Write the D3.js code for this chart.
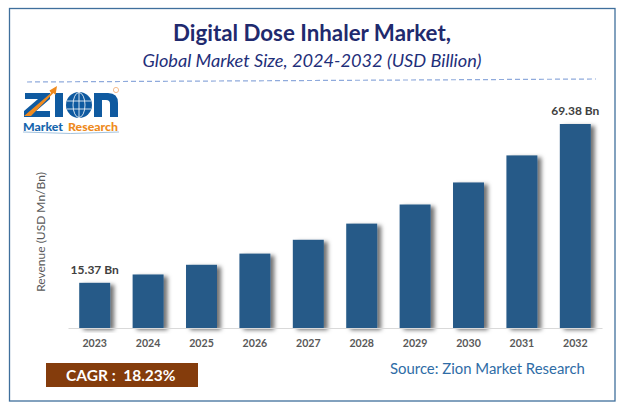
<!DOCTYPE html>
<html><head><meta charset="utf-8">
<script src="https://cdn.jsdelivr.net/npm/d3@7"></script>
<style>html,body{margin:0;padding:0;background:#fff}svg{display:block}text{font-family:Lato,"Open Sans",sans-serif}</style>
</head><body><div id="c"></div>
<script>
const years = ["2023","2024","2025","2026","2027","2028","2029","2030","2031","2032"];
const revenue = [15.37,18.2,21.5,25.3,30.0,35.5,42.0,49.5,58.7,69.38];
const labelled = {"2023":"15.37 Bn","2032":"69.38 Bn"};
const titleText = "Digital Dose Inhaler Market,";
const subtitleText = "Global Market Size, 2024-2032 (USD Billion)";
const yAxisText = "Revenue (USD Mn/Bn)";
const cagrText = "CAGR :  18.23%";
const sourceText = "Source: Zion Market Research";

const W=623,H=409;
const svg=d3.select("#c").append("svg").attr("width",W).attr("height",H);
const defs=svg.append("defs");
const f=defs.append("filter").attr("id","sh").attr("x","-30%").attr("y","-10%").attr("width","170%").attr("height","120%");
f.append("feDropShadow").attr("dx",4).attr("dy",2).attr("stdDeviation",2.2).attr("flood-color","#000").attr("flood-opacity",0.55);

svg.append("rect").attr("x",9.5).attr("y",8.5).attr("width",605.5).attr("height",392.5).attr("fill","#fff").attr("stroke","#3f6f9c").attr("stroke-width",1.3);

svg.append("text").attr("x",312).attr("y",41).attr("text-anchor","middle").attr("font-size",22.3).attr("font-weight",700).attr("fill","#1f2a6e").text(titleText);
svg.append("text").attr("x",312).attr("y",67).attr("text-anchor","middle").attr("font-size",18.2).attr("font-style","italic").attr("fill","#1f2f7a").text(subtitleText);
svg.append("line").attr("x1",27).attr("y1",82).attr("x2",596).attr("y2",79).attr("stroke","#8faadc").attr("stroke-width",1.2).attr("stroke-dasharray","5 3");

// logo
const blue="#0f5aa0";
const logo=svg.append("g");
logo.append("path").attr("d","M25 93H50V99L36 111H50V117H24V111L38 99H25Z").attr("fill",blue);
logo.append("rect").attr("x",55).attr("y",93).attr("width",8).attr("height",24).attr("fill",blue);
logo.append("path").attr("d","M24 116 L51 93 L49.5 90.5 L57 86 L55.5 95 L53.5 93 L31 116Z").attr("fill","#f08a1d");
logo.append("circle").attr("cx",79).attr("cy",105).attr("r",13).attr("fill",blue);
logo.append("ellipse").attr("cx",79).attr("cy",105).attr("rx",6).attr("ry",12.5).attr("fill","none").attr("stroke","#fff").attr("stroke-width",.8);
logo.append("path").attr("d","M67 101H91M67 109H91M79 92V118").attr("stroke","#fff").attr("stroke-width",.8);
logo.append("path").attr("d","M94 117V93H108Q118 93 118 103V117H110V104Q110 100 106 100H102V117Z").attr("fill",blue);
logo.append("text").attr("x",23).attr("y",131).attr("font-size",11.5).attr("font-weight",900).attr("fill","#1766ad").attr("textLength",40).attr("lengthAdjust","spacingAndGlyphs").text("Market");
logo.append("text").attr("x",68).attr("y",131).attr("font-size",11.5).attr("font-weight",900).attr("fill","#ee8a20").attr("textLength",50).attr("lengthAdjust","spacingAndGlyphs").text("Research");
logo.append("path").attr("d","M23 132 Q70 135 119 132").attr("fill","none").attr("stroke","#7aa7d0").attr("stroke-width",.7);
logo.append("circle").attr("cx",116).attr("cy",90).attr("r",2.6).attr("fill","none").attr("stroke","#f0a060").attr("stroke-width",.7);

const x=d3.scaleBand().domain(years).range([68,602]).paddingInner(0.42).paddingOuter(0.21);
const y=d3.scaleLinear().domain([0,69.38]).range([328,124]);

svg.append("g").selectAll("rect").data(years).join("rect")
 .attr("x",d=>x(d)).attr("width",x.bandwidth())
 .attr("y",(d,i)=>y(revenue[i])).attr("height",(d,i)=>y(0)-y(revenue[i]))
 .attr("fill","#265a88").attr("filter","url(#sh)");

const ax=svg.append("g").attr("transform","translate(0,328)").call(d3.axisBottom(x).tickSize(0).tickPadding(11));
ax.select(".domain").attr("stroke","#d9d9d9").attr("stroke-width",1.2);
ax.selectAll("text").attr("font-size",10.6).attr("font-weight",700).attr("fill","#595959").style("font-family","Lato,sans-serif");

svg.append("g").selectAll("text").data(years.filter(d=>labelled[d])).join("text")
 .attr("x",d=>x(d)+x.bandwidth()/2).attr("y",d=>y(revenue[years.indexOf(d)])-9)
 .attr("text-anchor","middle").attr("font-size",12).attr("font-weight",700).attr("fill","#404040").text(d=>labelled[d]);

svg.append("text").attr("transform","translate(44.5,232) rotate(-90)").attr("text-anchor","middle").attr("font-size",12).attr("fill","#595959").text(yAxisText);

svg.append("rect").attr("x",46).attr("y",363).attr("width",152).attr("height",24).attr("fill","#843c0c");
svg.append("text").attr("x",66).attr("y",381).attr("font-size",15.5).attr("font-weight",700).attr("fill","#fff").style("white-space","pre").text(cagrText);
svg.append("text").attr("x",390).attr("y",374).attr("font-size",14.9).attr("fill","#2e6ca6").text(sourceText);
</script></body></html>
